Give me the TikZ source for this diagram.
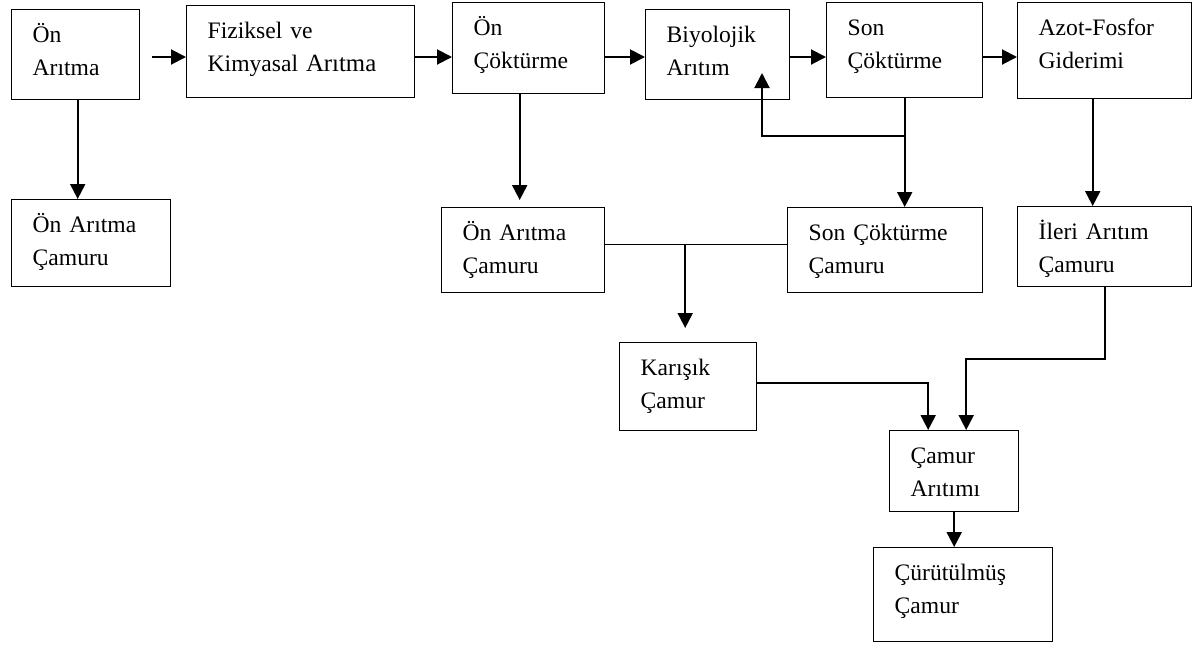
\documentclass[tikz,border=0pt]{standalone}
\usepackage{fontspec}
\setmainfont{Liberation Serif}
\usetikzlibrary{arrows.meta}
\tikzset{
  stage/.style 2 args={draw,line width=1.4pt,anchor=north west,align=left,
    inner xsep=21pt,inner ysep=0pt,text width={#1pt-42pt},
    text height=33pt,text depth={#2pt-33pt},
    font=\fontsize{23.6}{32.5}\selectfont},
  flow/.style={-{Triangle[length=15pt,width=15pt]},line width=2pt},
  feed/.style={line width=1.2pt}}

\begin{document}
\begin{tikzpicture}[x=1pt,y=-1pt]
  \useasboundingbox (0,0) rectangle (1195,649);
  % main treatment line
  \node[stage={128}{90}] (onar)   at (11,9)   {Ön\\Arıtma};
  \node[stage={228}{92}] (fiz)    at (186,5)  {Fiziksel ve\\Kimyasal {\fontsize{24.8}{32.5}\selectfont Arıtma}};
  \node[stage={152}{91}] (oncok)  at (452,2)  {Ön\\Çöktürme};
  \node[stage={144}{90}] (bio)    at (645,9)  {Biyolojik\\Arıtım};
  \node[stage={156}{95}] (soncok) at (826,2)  {Son\\Çöktürme};
  \node[stage={174}{96}] (azot)   at (1017,2) {Azot-Fosfor\\Giderimi};
  % sludge line
  \node[stage={159}{87}] (onarcam1) at (11,199)   {Ön Arıtma\\Çamuru};
  \node[stage={163}{85}] (onarcam2) at (441,207)  {Ön Arıtma\\Çamuru};
  \node[stage={195}{85}] (soncam)   at (787,207)  {Son Çöktürme\\Çamuru};
  \node[stage={174}{80}] (ilericam) at (1017,206) {İleri Arıtım\\Çamuru};
  \node[stage={137}{88}] (karisik)  at (619,342)  {Karışık\\Çamur};
  \node[stage={129}{81}] (camar)    at (889,430)  {Çamur\\Arıtımı};
  \node[stage={179}{94}] (curut)    at (873,547)  {Çürütülmüş\\Çamur};
  \coordinate (main)  at (0,57);
  \coordinate (bioin) at (762,73);

  \draw[flow] ([xshift=12pt]onar.east |- main) -- (fiz.west |- main);
  \draw[flow] (fiz.east |- main) -- (oncok.west |- main);
  \draw[flow] (oncok.east |- main) -- (bio.west |- main);
  \draw[flow] (bio.east |- main) -- (soncok.west |- main);
  \draw[flow] (soncok.east |- main) -- (azot.west |- main);

  \draw[flow] ([xshift=2pt]onar.south) -- ([xshift=2pt]onar.south |- onarcam1.north);
  \draw[flow,shorten >=7pt] ([xshift=-9pt]oncok.south) -- ([xshift=-9pt]oncok.south |- onarcam2.north);
  \draw[flow] (soncok.south) -- (soncok.south |- soncam.north);
  \draw[flow] (soncok.south) ++(0,38) -| (bioin);
  \draw[flow] ([xshift=-12pt]azot.south) -- ([xshift=-12pt]azot.south |- ilericam.north);

  \draw[feed] ([yshift=6pt]onarcam2.east) -- ([yshift=6pt]soncam.west);
  \draw[flow,shorten >=14pt] ([xshift=-3pt,yshift=6pt]onarcam2.east -| karisik.north) -- ([xshift=-3pt]karisik.north);
  \draw[flow] ([yshift=4pt]karisik.east) -| ([xshift=-26pt]camar.north);
  \draw[flow] (ilericam.south) -- ++(0,72) -| ([xshift=12pt]camar.north);
  \draw[flow] (camar.south) -- (camar.south |- curut.north);
\end{tikzpicture}
\end{document}
